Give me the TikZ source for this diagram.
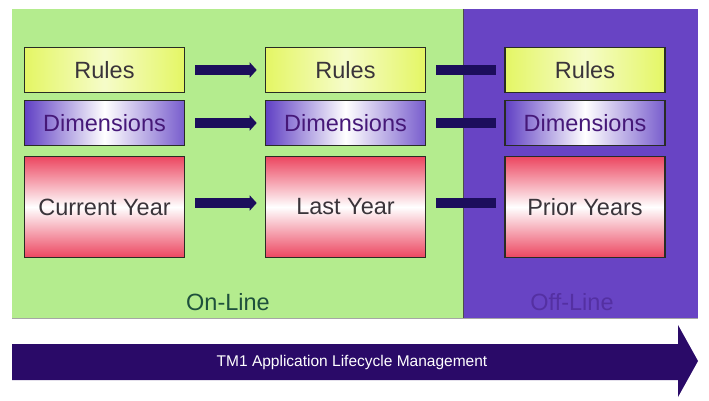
\documentclass[tikz,border=0pt]{standalone}
\usepackage{fontspec}
\setmainfont{Liberation Sans}
\usetikzlibrary{arrows.meta}
\definecolor{bggreen}{RGB}{180,236,142}
\definecolor{bgpurple}{RGB}{104,68,196}
\definecolor{navyarrow}{RGB}{28,14,92}
\definecolor{lifearrow}{RGB}{42,10,104}
\definecolor{rulesyel}{RGB}{228,246,100}
\definecolor{dimpurple}{RGB}{96,64,196}
\definecolor{yearred}{RGB}{236,70,96}
\definecolor{boxedge}{RGB}{40,44,36}
\definecolor{boxtext}{RGB}{58,52,58}
\definecolor{dimtext}{RGB}{70,24,120}
\definecolor{onlinetext}{RGB}{30,80,60}
\definecolor{offlinetext}{RGB}{84,48,162}
\tikzset{
  card/.style={draw=boxedge, line width=1.6pt, minimum width=160pt, inner sep=0pt,
    font=\fontsize{23.5}{26}\selectfont, text=boxtext},
  rulesbox/.style={card, minimum height=45pt, left color=rulesyel, right color=rulesyel, middle color=rulesyel!35!white},
  dimbox/.style={card, minimum height=45pt, left color=dimpurple, right color=dimpurple!85!white, middle color=white, text=dimtext},
  yearbox/.style={card, minimum height=101pt, top color=yearred, bottom color=yearred, middle color=white},
  conn/.style={draw=navyarrow, line width=10pt, shorten <=10pt, shorten >=8pt},
  connhead/.style={conn, -{Triangle[length=7pt,width=15pt]}},
  panellabel/.style={font=\fontsize{23.5}{26}\selectfont},
}
\begin{document}
\begin{tikzpicture}[x=1pt,y=-1pt]
\useasboundingbox (0,0) rectangle (709,401);
\fill[white] (0,0) rectangle (709,401);
% panels
\fill[bggreen] (12,9) rectangle (463,318);
\fill[bgpurple] (463,9) rectangle (698,318);
\draw[black!70, line width=1pt] (463,9) -- (463,318);
\draw[gray!70, line width=1.2pt] (12,318.5) -- (698,318.5);
% boxes
\node[rulesbox] (r1) at (104.5,70) {Rules};
\node[rulesbox] (r2) at (345.5,70) {Rules};
\node[rulesbox] (r3) at (585,70) {Rules};
\node[dimbox] (d1) at (104.5,123) {Dimensions};
\node[dimbox] (d2) at (345.5,123) {Dimensions};
\node[dimbox] (d3) at (585,123) {Dimensions};
\node[yearbox] (y1) at (104.5,207) {Current Year};
\node[yearbox] (y2) at (345.5,207) {Last Year};
\node[yearbox] (y3) at (585,207) {Prior Years};
% connectors
\draw[connhead] (r1.east) -- (r2.west);
\draw[connhead] (d1.east) -- (d2.west);
\draw[connhead] ([yshift=4pt]y1.east) -- ([yshift=4pt]y2.west);
\draw[conn] (r2.east) -- (r3.west);
\draw[conn] (d2.east) -- (d3.west);
\draw[conn] ([yshift=4pt]y2.east) -- ([yshift=4pt]y3.west);
% panel labels
\node[panellabel, text=onlinetext] (online) at (228,302) {On-Line};
\node[panellabel, text=offlinetext] (offline) at (572,302) {Off-Line};
% lifecycle arrow
\fill[lifearrow] (12,344) -- (678,344) -- (678,325) -- (698,361) -- (678,397) -- (678,380) -- (12,380) -- cycle;
\node[text=white, font=\fontsize{15.5}{18}\selectfont] (life) at (352,362) {TM1 Application Lifecycle Management};
\end{tikzpicture}
\end{document}
